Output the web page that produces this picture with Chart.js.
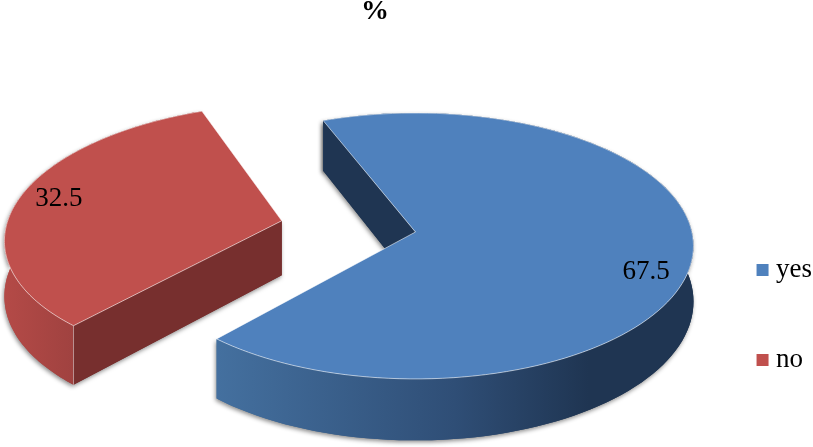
<!DOCTYPE html>
<html>
<head>
<meta charset="utf-8">
<script src="https://cdn.jsdelivr.net/npm/chart.js@4"></script>
<style>
  body { margin: 0; background: #fff; }
</style>
</head>
<body>
<canvas id="pieChart" width="813" height="447"></canvas>
<script>
const categories = ["yes", "no"];
const percentValues = [67.5, 32.5];
const sliceColors = ["#4f81bd", "#c0504d"];
const sideColors = ["#1f3552", "#772f2e"];
const curvedSideStops = [
  [[0, "#44709f"], [0.5, "#2f4e76"], [0.78, "#1f3552"], [1, "#1f3552"]],
  [[0, "#b44a47"], [1, "#a04240"]],
];
const sliceOffsets = [0, 137];
const labelTurns = [9.9, 1.7]; // degrees past the middle of the slice
const labelRadii = [0.86, 0.855];

const fontFamily = "'Liberation Serif', 'Times New Roman', serif";
const squash = 0.4756; // tilt of the pie
const perspective = 0.105;
const wallDepth = 55;

// Tilted 3D look: takes the arc geometry from Chart.js and projects it
const pie3d = {
  id: "pie3d",
  afterLayout(chart) {
    // put title and legend where the original has them
    const title = chart.titleBlock;
    title.left -= 101.7;
    title.right -= 101.7;
    title.top -= 5;
    title.bottom -= 5;
    const legend = chart.legend;
    const pad = legend.options.labels.padding;
    legend.left = 762.5 - pad;
    legend.right = legend.left + legend.width;
    legend.top = 256.5 - pad;
    legend.bottom = legend.top + legend.height;
  },
  beforeDatasetsDraw(chart) {
    const ctx = chart.ctx;
    const arcs = chart.getDatasetMeta(0).data;
    arcs.forEach((arc, i) => drawSlice(ctx, arc, i));
    ctx.save();
    ctx.fillStyle = "#000";
    ctx.font = "27px " + fontFamily;
    ctx.textAlign = "center";
    ctx.textBaseline = "middle";
    arcs.forEach((arc, i) => {
      const halfway = (arc.startAngle + arc.endAngle) / 2;
      const off = arc.options.offset || 0;
      const mid = halfway + (labelTurns[i] * Math.PI) / 180;
      const r = arc.outerRadius * labelRadii[i];
      const p = project(
        arc,
        Math.cos(halfway) * off + Math.cos(mid) * r,
        Math.sin(halfway) * off + Math.sin(mid) * r
      );
      ctx.fillText(String(percentValues[i]), p.x, p.y);
    });
    ctx.restore();
    return false; // slices already painted
  },
};

function project(arc, px, py) {
  const f = 1 / (1 - (perspective * py) / arc.outerRadius);
  return { x: arc.x + px * f, y: arc.y + squash * py * f, f: f };
}

function drawSlice(ctx, arc, i) {
  const mid = (arc.startAngle + arc.endAngle) / 2;
  const off = arc.options.offset || 0;
  const ox = Math.cos(mid) * off;
  const oy = Math.sin(mid) * off;
  const rim = [];
  const steps = 120;
  for (let s = 0; s <= steps; s++) {
    const a = arc.startAngle + ((arc.endAngle - arc.startAngle) * s) / steps;
    rim.push(project(arc, ox + Math.cos(a) * arc.outerRadius, oy + Math.sin(a) * arc.outerRadius));
  }
  const tip = project(arc, ox, oy);
  const down = (p) => ({ x: p.x, y: p.y + wallDepth * p.f });

  const poly = (pts) => {
    ctx.beginPath();
    pts.forEach((p, n) => (n ? ctx.lineTo(p.x, p.y) : ctx.moveTo(p.x, p.y)));
    ctx.closePath();
  };

  const first = rim[0];
  const last = rim[rim.length - 1];
  const minX = Math.min(...rim.map((p) => p.x));
  const lowPart = rim.filter((p) => p.y > tip.y - 20);
  const maxX = i === 0 ? Math.max(...lowPart.map((p) => p.x)) : first.x;

  const grad = ctx.createLinearGradient(minX, 0, maxX, 0);
  curvedSideStops[i].forEach((st) => grad.addColorStop(st[0], st[1]));

  const paintWalls = () => {
    ctx.fillStyle = grad;
    poly(rim.concat(rim.map(down).reverse()));
    ctx.fill();
    // only the straight side that faces the viewer
    ctx.fillStyle = sideColors[i];
    if (Math.cos(arc.startAngle) < 0) {
      poly([first, tip, down(tip), down(first)]);
      ctx.fill();
    }
    if (Math.cos(arc.endAngle) > 0) {
      poly([last, tip, down(tip), down(last)]);
      ctx.fill();
    }
  };

  // soft shadow first, then the walls again without it
  ctx.save();
  ctx.shadowColor = "rgba(0,0,0,0.45)";
  ctx.shadowBlur = 4;
  ctx.shadowOffsetX = -1;
  ctx.shadowOffsetY = 2;
  paintWalls();
  ctx.restore();
  paintWalls();

  // corner highlight on the red slice
  if (i === 1) {
    ctx.save();
    ctx.strokeStyle = "rgba(255,255,255,0.45)";
    ctx.lineWidth = 1;
    ctx.beginPath();
    ctx.moveTo(first.x, first.y);
    ctx.lineTo(down(first).x, down(first).y);
    ctx.stroke();
    ctx.restore();
  }

  // top face
  ctx.save();
  poly([tip].concat(rim));
  ctx.fillStyle = sliceColors[i];
  ctx.fill();
  ctx.strokeStyle = "rgba(255,255,255,0.55)";
  ctx.lineWidth = 1;
  ctx.stroke();
  ctx.restore();
}

new Chart(document.getElementById("pieChart"), {
  type: "pie",
  data: {
    labels: categories,
    datasets: [
      {
        data: percentValues,
        backgroundColor: sliceColors,
        borderWidth: 0,
        offset: sliceOffsets,
      },
    ],
  },
  plugins: [pie3d],
  options: {
    responsive: false,
    animation: false,
    rotation: -21.5,
    radius: 276.5,
    layout: { padding: { left: 140.5, bottom: 18.6 } },
    plugins: {
      tooltip: { enabled: false },
      title: {
        display: true,
        text: "%",
        color: "#000",
        font: { family: fontFamily, size: 28, weight: "bold" },
        padding: { top: 0, bottom: 2 },
      },
      legend: {
        position: "right",
        align: "start",
        labels: {
          color: "#000",
          font: { family: fontFamily, size: 27 },
          usePointStyle: true,
          pointStyle: "rect",
          boxWidth: 0.1,
          boxHeight: 12,
          padding: 63,
        },
      },
    },
  },
});
</script>
</body>
</html>
